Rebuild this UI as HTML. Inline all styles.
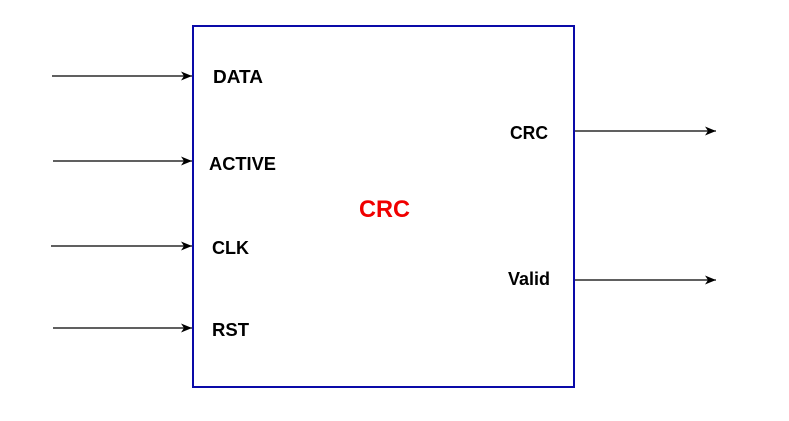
<!DOCTYPE html>
<html><head><meta charset="utf-8"><style>
body{margin:0;background:#fff;}
svg{display:block;}
text{font-family:"Liberation Sans",Arial,sans-serif;font-weight:bold;}
</style></head><body>
<svg width="789" height="421" viewBox="0 0 789 421" xmlns="http://www.w3.org/2000/svg">
<defs><marker id="a" markerWidth="12" markerHeight="12" refX="11" refY="6" orient="auto" markerUnits="userSpaceOnUse"><path d="M0,1.5 L11,6 L0,10.5 L3,6 Z" fill="#000"/></marker></defs>
<rect x="193" y="26" width="381" height="361" fill="#fff" stroke="#0a0aa8" stroke-width="2"/>
<g stroke="#000" stroke-width="1.3" marker-end="url(#a)">
<line x1="52" y1="76" x2="192" y2="76"/>
<line x1="53" y1="161" x2="192" y2="161"/>
<line x1="51" y1="246" x2="192" y2="246"/>
<line x1="53" y1="328" x2="192" y2="328"/>
<line x1="575" y1="131" x2="716" y2="131"/>
<line x1="575" y1="280" x2="716" y2="280"/>
</g>
<g font-size="18" fill="#000">
<text x="213" y="83" textLength="50" lengthAdjust="spacingAndGlyphs">DATA</text>
<text x="209" y="170" textLength="67" lengthAdjust="spacingAndGlyphs">ACTIVE</text>
<text x="212" y="254" textLength="37" lengthAdjust="spacingAndGlyphs">CLK</text>
<text x="212" y="336" textLength="37" lengthAdjust="spacingAndGlyphs">RST</text>
<text x="510" y="139" textLength="38" lengthAdjust="spacingAndGlyphs">CRC</text>
<text x="508" y="285" textLength="42" lengthAdjust="spacingAndGlyphs">Valid</text>
</g>
<text x="359" y="217" font-size="24" fill="#f00000" textLength="51" lengthAdjust="spacingAndGlyphs">CRC</text>
</svg>
</body></html>
